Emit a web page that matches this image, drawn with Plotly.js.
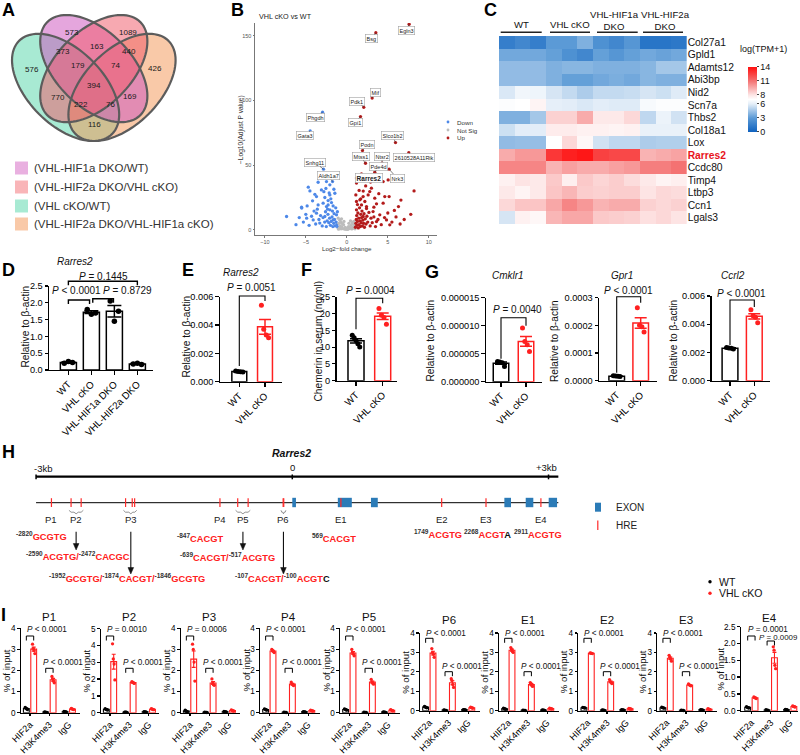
<!DOCTYPE html>
<html>
<head>
<meta charset="utf-8">
<script src="https://cdn.plot.ly/plotly-3.0.1.min.js"></script>
<style>
html, body { margin: 0; padding: 0; background: #fff; }
#fig { width: 800px; height: 755px; }
</style>
</head>
<body>
<div id="fig"></div>
<script>
// ===================== DATA =====================

// A: overlap of differentially expressed genes
const vennSets = ['(VHL-HIF1a DKO/WT)', '(VHL-HIF2a DKO/VHL cKO)', '(VHL cKO/WT)', '(VHL-HIF2a DKO/VHL-HIF1a cKO)'];
const vennCounts = [573, 1089, 373, 163, 440, 576, 179, 74, 426, 394, 770, 169, 222, 76, 116];

// B: volcano, VHL cKO vs WT  [log2 fold change, -log10 adjusted P]
const downPoints = [[-3.5,36.8],[-2.48,37.3],[-4.7,33],[-4.5,30.1],[-3.1,30.9],[-2.07,34.8],[-1.58,31.4],[-1.46,28.3],[-2.07,27],[-2.68,25],
  [-3.7,25.7],[-4.18,22.4],[-2.28,22.6],[-1.87,21.1],[-2.89,20.6],[-3.5,19.3],[-4.84,18.5],[-5.52,17.5],[-2.48,18],[-1.67,18.5],
  [-7.35,10.3],[-4.1,7.7],[-3.7,12.9],[-5.5,16.8],[-2.68,10.3],[-2.07,15.5],[-1.67,7.7],[-1.26,11.6],[-3.3,5.2],[-4.9,9],
  [-2.28,19.3],[-1.1,2],[-1.2,4],[-1.3,6],[-1.4,3],[-1.5,8],[-1.6,5],[-1.7,2.5],[-1.8,10],[-1.9,6.5],
  [-2.0,3.5],[-2.1,9],[-2.2,5.5],[-2.3,12],[-2.4,7],[-2.5,2.5],[-2.6,14],[-2.7,6],[-2.9,9.5],[-3.0,3],
  [-3.2,11],[-3.4,8],[-3.6,16],[-3.8,4.5],[-4.0,14.5],[-4.3,10.5],[-4.6,3.5],[-5.0,12],[-5.3,6],[-5.8,9.5],
  [-6.2,4],[-1.15,14],[-1.35,17],[-1.55,12.5],[-1.75,14.5],[-1.95,24],[-2.15,28.5],[-2.35,16],[-2.55,32],[-3.9,27.5],[-2.8,29.5]];
const nsPoints = [[-1.0,0.5],[-0.9,1.5],[-0.8,3],[-0.7,0.8],[-0.6,2.2],[-0.5,1],[-0.4,4],[-0.3,0.6],[-0.2,1.8],[-0.1,0.4],
  [0,1.2],[0.1,0.3],[0.2,2.5],[0.3,0.9],[0.4,1.6],[0.5,3.5],[0.6,0.7],[0.7,2],[0.8,4.5],[0.9,1.2],
  [1.0,0.8],[-0.95,5],[-0.75,6],[-0.55,4.8],[0.65,5.5],[0.85,6.5],[-0.85,7.5],[0.95,3],[-1.05,9],[-0.65,8.5],
  [-0.35,6.5],[0.25,5],[0.45,7]];
const upPoints = [[1.18,40],[3.0,32.2],[2.8,29.6],[1.18,36.2],[4.43,37.3],[5.04,38.6],[8.2,30.1],[1.99,25.7],[2.6,27],[1.1,27],
  [1.59,23.2],[2.2,21.9],[3.41,24.5],[4.63,25.7],[5.16,25.7],[1.18,21.9],[1.79,19.3],[2.4,18],[3.62,20.1],[4.43,20.6],
  [4.84,7.7],[4.02,11.6],[3.2,14.1],[3.62,6.4],[5.24,3.9],[2.4,16.5],[1.99,10.3],[1.18,15.5],[1.05,2],[1.1,5],
  [1.15,8],[1.2,11],[1.25,3.5],[1.3,6.5],[1.35,13],[1.4,1.5],[1.45,9],[1.5,4],[1.55,17],[1.6,7],
  [1.65,2.5],[1.7,12],[1.75,5.5],[1.8,9.5],[1.85,14.5],[1.9,3],[1.95,7.5],[2.05,5],[2.1,12.5],[2.15,2],
  [2.25,8.5],[2.35,4.5],[2.45,10.5],[2.55,6],[2.7,13.5],[2.85,3],[2.95,9],[3.1,5.5],[3.3,10],[3.5,2.5],
  [3.8,8],[4.2,4],[4.6,9.5],[5.0,13],[5.5,6],[6.0,10],[6.5,4.5],[7.0,8],[5.8,15],[6.3,18],
  [1.3,19.5],[1.7,24],[2.0,30],[2.3,34],[2.9,37],[3.3,17.5],[3.9,28],[1.5,30.5],[6.6,23],[7.8,12]];
const labGenes = ['Egln3','Bsg','Mif','Pdk1','Gpi1','Phgdh','Gata3','Slco1b2','Podn','2610528A11Rik','Mtss1','Ntsr2','Pde4d','Nrk3','Rarres2','Snhg11','Aldh1a7'];
const labPoints = [[7.6,159],[3.54,152.5],[3.09,102],[2.07,94.8],[1.67,87.6],[-2.96,91],[-4.47,76.5],[5.94,67.5],[1.91,61.3],[7.56,59.7],
  [2.28,51.5],[4.3,51.5],[3.41,44.6],[5.16,46.9],[1.79,43.3],[-2.84,46.9],[-1.74,37.3]];

// C: heatmap, log(TPM+1)
const heatGenes = ['Col27a1','Gpld1','Adamts12','Abi3bp','Nid2','Scn7a','Thbs2','Col18a1','Lox','Rarres2','Ccdc80','Timp4','Ltbp3','Ccn1','Lgals3'];
const heatGroups = ['WT','VHL cKO','VHL-HIF1a<br>DKO','VHL-HIF2a<br>DKO'];
const heatLogTPM = [
  [1.5,2.0,1.5, 3.0,3.0,3.8, 2.5,2.0,2.8, 1.0,1.0,1.2],
  [3.5,3.5,3.5, 3.2,2.5,2.0, 3.2,2.8,3.2, 3.5,3.3,3.5],
  [4.2,4.2,4.2, 3.8,4.0,4.0, 3.8,3.8,3.8, 4.0,4.6,4.6],
  [4.2,4.2,4.2, 3.8,3.2,3.2, 3.5,3.7,3.5, 4.0,3.8,3.8],
  [5.8,6.5,6.4, 5.7,5.3,4.8, 5.3,5.3,5.4, 5.7,5.5,5.9],
  [6.9,7.0,7.4, 6.1,6.0,5.8, 6.0,5.9,5.9, 6.7,6.9,6.9],
  [3.8,3.8,4.6, 8.5,8.5,9.5, 7.8,7.8,8.3, 5.2,6.3,5.6],
  [5.5,6.0,6.0, 7.7,7.7,7.5, 7.5,7.4,7.5, 6.2,6.2,6.2],
  [4.2,4.3,4.3, 7.0,8.3,7.3, 5.6,5.2,5.2, 4.8,4.9,4.9],
  [9.5,10.0,10.0, 12.8,13.5,13.8, 12.5,12.3,12.3, 9.3,9.5,9.7],
  [10.5,10.5,10.5, 9.3,9.8,9.5, 9.5,9.8,10.0, 10.7,10.7,11.0],
  [7.5,8.0,7.8, 8.7,7.6,8.7, 8.4,8.6,8.2, 7.8,7.4,7.6],
  [7.8,7.4,7.8, 8.8,9.2,8.6, 8.5,8.6,8.6, 8.0,8.3,8.2],
  [8.3,8.8,8.8, 9.6,10.5,10.0, 9.3,9.5,9.5, 8.5,8.3,8.5],
  [5.7,7.5,7.3, 9.2,9.6,9.6, 8.7,8.6,8.5, 8.1,8.3,8.0]
];

// D: Rarres2 mRNA, four genotypes
const dGroups = ['WT','VHL cKO','VHL-HIF1a DKO','VHL-HIF2a DKO'];
const dRarres2 = [[0.20,0.25,0.22],[1.80,1.66,1.70],[2.05,1.45,1.75],[0.18,0.20,0.16]];
const dPvals = ['P = 0.1445','P < 0.0001','P = 0.8729'];

// E-G: WT vs VHL cKO
const genotypes = ['WT','VHL cKO'];
const eRarres2WT = [0.00075,0.00072,0.00070,0.00068];
const eRarres2KO = [0.0054,0.0037,0.0033,0.0031];
const fChemerinWT = [13.5,12.8,12.0,11.0,10.0];
const fChemerinKO = [21.5,19.5,18.8,16.8];
const gCmklr1WT = [3.6e-6,3.5e-6,3.4e-6,2.7e-6];
const gCmklr1KO = [9.6e-6,7.2e-6,6.6e-6,5.4e-6];
const gGpr1WT = [1.8e-5,1.7e-5,1.6e-5,1.5e-5];
const gGpr1KO = [2.64e-4,2.0e-4,1.95e-4,1.76e-4];
const gCcrl2WT = [0.00236,0.00232,0.00229,0.00225];
const gCcrl2KO = [0.00502,0.0046,0.0045,0.00411];
const efgPvals = ['P = 0.0051','P = 0.0004','P = 0.0040','P < 0.0001','P < 0.0001'];

// H: Rarres2 locus (bp relative to TSS)
const hreSites = [-2820,-2590,-2472,-1952,-1874,-1846,-847,-639,-517,-107,-100,569,1749,2268,2911];
const exonStart = [0,533,921,2483,2733,3002];
const exonEnd = [43,697,1001,2561,2822,3100];
const regionNames = ['P1','P2','P3','P4','P5','P6','E1','E2','E3','E4'];
const regionSites = [[-2820],[-2590,-2472],[-1952,-1874,-1846],[-847],[-639,-517],[-107,-100],[569],[1749],[2268],[2911]];
const regionMotifs = [['GCGTG'],['ACGTG','CACGC'],['GCGTG','CACGT','GCGTG'],['CACGT'],['CACGT','ACGTG'],['CACGT','ACGT|C'],['CACGT'],['ACGTG'],['ACGT|A'],['ACGTG']];

// I: ChIP-qPCR, % of input, per region
const chipTargets = ['HIF2a','H3K4me3','IgG'];
const hif2aWT = [[0.25,0.22,0.18,0.15],[0.24,0.20,0.18,0.16],[0.12,0.08,0.06,0.04],[0.18,0.16,0.14,0.12],[0.18,0.16,0.14,0.12],
  [0.22,0.19,0.17,0.15],[0.13,0.11,0.09,0.08],[0.17,0.16,0.15,0.14],[0.18,0.16,0.15,0.13],[0.12,0.10,0.09,0.08]];
const hif2aKO = [[3.25,3.05,2.95,2.80],[4.10,3.20,2.90,1.95],[3.25,3.00,2.40,1.50],[3.00,2.95,2.90,2.85],[3.00,2.85,2.78,2.70],
  [3.20,3.00,2.90,2.75],[3.25,3.15,3.05,3.00],[2.97,2.96,2.95,2.94],[2.85,2.75,2.65,2.55],[0.41,0.39,0.38,0.36]];
const h3k4WT = [[0.04,0.03,0.02,0.02],[0.04,0.03,0.03,0.02],[0.03,0.02,0.02,0.01],[0.03,0.02,0.02,0.01],[0.03,0.02,0.02,0.01],
  [0.04,0.03,0.02,0.02],[0.03,0.02,0.02,0.01],[0.04,0.03,0.03,0.02],[0.03,0.02,0.02,0.01],[0.03,0.02,0.02,0.01]];
const h3k4KO = [[1.72,1.60,1.50,1.42],[1.85,1.80,1.78,1.74],[1.60,1.40,1.33,1.30],[1.45,1.36,1.32,1.29],[1.58,1.46,1.40,1.35],
  [1.65,1.55,1.35,1.20],[1.45,1.40,1.30,1.25],[1.60,1.50,1.45,1.40],[1.38,1.33,1.30,1.28],[1.90,1.80,1.35,1.25]];
const iggWT = [[0.06,0.05,0.04,0.04],[0.06,0.05,0.05,0.04],[0.06,0.05,0.04,0.04],[0.05,0.04,0.04,0.03],[0.04,0.03,0.03,0.02],
  [0.06,0.05,0.04,0.04],[0.04,0.03,0.03,0.02],[0.05,0.04,0.04,0.03],[0.05,0.04,0.04,0.03],[0.04,0.03,0.03,0.02]];
const iggKO = [[0.20,0.18,0.16,0.15],[0.24,0.21,0.19,0.18],[0.13,0.11,0.09,0.08],[0.12,0.10,0.09,0.08],[0.15,0.12,0.10,0.09],
  [0.18,0.16,0.14,0.13],[0.13,0.11,0.10,0.09],[0.12,0.10,0.09,0.08],[0.10,0.08,0.07,0.06],[0.14,0.13,0.12,0.11]];
const chipPvals = [['P < 0.0001','P < 0.0001'],['P = 0.0010','P < 0.0001'],['P = 0.0006','P < 0.0001'],['P < 0.0001','P < 0.0001'],
  ['P < 0.0001','P < 0.0001'],['P < 0.0001','P < 0.0001'],['P < 0.0001','P < 0.0001'],['P < 0.0001','P < 0.0001'],
  ['P < 0.0001','P < 0.0001'],['P = 0.0001','P = 0.0009']];
const chipYMax = [4,5,4,4,4,4,4,4,4,2.5];

// ===================== DRAWING =====================
const W = 800, H = 755;
const FONT = 'Arial, "Liberation Sans", Helvetica, sans-serif';
const RED = '#ff2020';
const fx = v => v / W;
const fy = v => 1 - v / H;
const domX = (a, b) => [a / W, b / W];
const domY = (top, bot) => [1 - bot / H, 1 - top / H];

const traces = [], shapes = [], annotations = [];
const layout = {
  width: W, height: H, margin: {l: 0, r: 0, t: 0, b: 0},
  paper_bgcolor: '#fff', plot_bgcolor: 'rgba(0,0,0,0)',
  showlegend: false, barmode: 'overlay',
  font: {family: FONT, color: '#000'},
  shapes: shapes, annotations: annotations
};

const axKey = k => (k === 1 ? '' : String(k));
const xr = k => 'x' + axKey(k);
const yr = k => 'y' + axKey(k);
function setAx(k, xa, ya) {
  layout['xaxis' + axKey(k)] = Object.assign({anchor: yr(k), fixedrange: true, showgrid: false, zeroline: false}, xa);
  layout['yaxis' + axKey(k)] = Object.assign({anchor: xr(k), fixedrange: true, showgrid: false, zeroline: false}, ya);
}
function T(x, y, text, size, o) {
  o = o || {};
  annotations.push({
    xref: o.xref || 'paper', yref: 'paper',
    x: o.xref ? x : fx(x), y: fy(y), text: text, showarrow: false,
    xanchor: o.anchor || 'center', yanchor: 'middle', textangle: o.angle || 0,
    font: {family: FONT, size: size, color: o.color || '#111'}
  });
}
const pTxt = s => '<i>P</i>' + s.slice(1).replace('<', '&lt;');
const mean = a => a.reduce((s, v) => s + v, 0) / a.length;
const sem = a => { const m = mean(a); return Math.sqrt(a.reduce((s, v) => s + (v - m) * (v - m), 0) / (a.length - 1)) / Math.sqrt(a.length); };
const JIT = {3: [-1, 0, 1], 4: [-1, -0.35, 0.35, 1], 5: [-1, -0.5, 0, 0.5, 1]};

// panel letters
[['A', 8, 10.5], ['B', 237, 10.5], ['C', 490, 10.5], ['D', 8, 270], ['E', 188, 270], ['F', 306.7, 270], ['G', 432, 272], ['H', 8, 452], ['I', 3, 615]]
  .forEach(p => T(p[1], p[2], '<b>' + p[0] + '</b>', 18, {color: '#000'}));

// ---------- A: Venn ----------
setAx(1, {domain: domX(0, 230), range: [0, 230], visible: false}, {domain: domY(0, 200), range: [200, 0], visible: false});
function ellipsePath(cx, cy, a, b, deg) {
  const t = deg * Math.PI / 180, c = Math.cos(t), s = Math.sin(t);
  let d = '';
  for (let i = 0; i <= 96; i++) {
    const u = 2 * Math.PI * i / 96;
    const x = cx + a * Math.cos(u) * c - b * Math.sin(u) * s;
    const y = cy + a * Math.cos(u) * s + b * Math.sin(u) * c;
    d += (i ? 'L' : 'M') + x.toFixed(2) + ',' + y.toFixed(2);
  }
  return d + 'Z';
}
// drawing order: VHL cKO/WT, HIF2a/HIF1a, HIF1a/WT, HIF2a/cKO
const vennShapes = [
  {cx: 65.6, cy: 87.4, ang: 45, fill: 'rgba(81,213,167,0.5)'},
  {cx: 122, cy: 87.4, ang: -45, fill: 'rgba(243,147,81,0.5)'},
  {cx: 93.8, cy: 68.6, ang: 45, fill: 'rgba(206,85,190,0.52)'},
  {cx: 93.8, cy: 68.6, ang: -45, fill: 'rgba(240,90,105,0.52)'}
];
vennShapes.forEach(e => shapes.push({type: 'path', xref: 'x', yref: 'y', path: ellipsePath(e.cx, e.cy, 65.8, 37.6, e.ang), fillcolor: e.fill, line: {width: 0}}));
vennShapes.forEach(e => shapes.push({type: 'path', xref: 'x', yref: 'y', path: ellipsePath(e.cx, e.cy, 65.8, 37.6, e.ang), fillcolor: 'rgba(0,0,0,0)', line: {color: '#5c5c5c', width: 2.2}}));
const vennCountPos = [[72,32],[128,32],[63,51],[97,46],[129,51],[32,69],[78,65],[115,65],[155,68],[94,85],[58,97],[130,96],[81,104],[110,104],[94,124]];
vennCounts.forEach((c, i) => annotations.push({xref: 'x', yref: 'y', x: vennCountPos[i][0], y: vennCountPos[i][1], text: String(c), showarrow: false, font: {family: FONT, size: 8, color: '#1a1a1a'}}));
const vennKeyColors = ['#e9b0e0', '#f9b5b8', '#a8ead3', '#f9c9a8'];
[168, 187, 206, 224].forEach((row, i) => {
  shapes.push({type: 'rect', xref: 'paper', yref: 'paper', x0: fx(15), x1: fx(28), y0: fy(row + 6.5), y1: fy(row - 6.5), fillcolor: vennKeyColors[i], line: {width: 0}});
  T(32, row, vennSets[i], 11.5, {anchor: 'left', color: '#333'});
});

// ---------- B: volcano ----------
const vAxisStyle = {showline: true, linecolor: '#777', linewidth: 1, ticks: 'outside', ticklen: 1.5, tickcolor: '#777', tickfont: {family: FONT, size: 5.5, color: '#555'}};
setAx(2, Object.assign({domain: domX(255, 437), range: [-11.2, 11], tickvals: [-10, -5, 0, 5, 10]}, vAxisStyle),
         Object.assign({domain: domY(23, 235), range: [-4, 160], tickvals: [0, 50, 100, 150]}, vAxisStyle));
const labDown = labPoints.filter(p => p[0] < 0), labUp = labPoints.filter(p => p[0] > 0);
const vSeries = [[downPoints.concat(labDown), '#4d88e8'], [nsPoints, '#bcbcbc'], [upPoints.concat(labUp), '#b31b1b']];
vSeries.forEach(s => traces.push({type: 'scatter', mode: 'markers', xaxis: 'x2', yaxis: 'y2',
  x: s[0].map(p => p[0]), y: s[0].map(p => p[1]), marker: {color: s[1], size: 3.3}, hoverinfo: 'skip'}));
const labOffsets = [[-3,6],[-4,6],[3,-5],[-7,-6],[-5,6],[-7,5],[-5,5],[-3,-7],[5,-6],[5,5],[-5,-7],[0,-7],[4,-6],[8,9],[8,4],[-9,-7],[-4,-6]];
labGenes.forEach((g, i) => {
  const hl = g === 'Rarres2';
  annotations.push({xref: 'x2', yref: 'y2', x: labPoints[i][0], y: labPoints[i][1], text: hl ? '<b>' + g + '</b>' : g,
    showarrow: true, arrowhead: 0, arrowwidth: 0.6, arrowcolor: '#333', ax: labOffsets[i][0], ay: labOffsets[i][1],
    font: {family: FONT, size: hl ? 6.5 : 5.5, color: '#222'}, bgcolor: '#fff', bordercolor: '#a0a0a0', borderwidth: 0.6, borderpad: 1});
});
T(257, 17, 'VHL cKO vs WT', 7.2, {anchor: 'left', color: '#222'});
T(347, 248.5, 'Log2−fold change', 6.2, {color: '#333'});
T(241, 130, '−Log10(Adjust P value)', 6.6, {angle: -90, color: '#333'});
[['Down', '#4d88e8', 122], ['Not Sig', '#bcbcbc', 130], ['Up', '#b31b1b', 138]].forEach(r => {
  shapes.push({type: 'circle', xref: 'paper', yref: 'paper', x0: fx(446.6), x1: fx(449.4), y0: fy(r[2] + 1.4), y1: fy(r[2] - 1.4), fillcolor: r[1], line: {width: 0}});
  T(455, r[2], r[0], 6.2, {anchor: 'left', color: '#333'});
});

// ---------- C: heatmap ----------
setAx(3, {domain: domX(499, 686.7), range: [-0.5, 11.5], visible: false},
  {domain: domY(36, 224), range: [14.5, -0.5], side: 'right', tickmode: 'array', tickvals: heatGenes.map((g, i) => i),
   ticktext: heatGenes.map(g => g === 'Rarres2' ? '<b><span style="color:#e8141c">Rarres2</span></b>' : g),
   ticks: '', showline: false, tickfont: {family: FONT, size: 10.3, color: '#111'}});
traces.push({type: 'heatmap', xaxis: 'x3', yaxis: 'y3', z: heatLogTPM, x: heatLogTPM[0].map((v, i) => i), y: heatGenes.map((g, i) => i),
  zmin: 0, zmax: 14, hoverinfo: 'skip',
  colorscale: [[0, '#0f62bf'], [0.214, '#5b9ad6'], [0.43, '#e4eef8'], [0.5, '#ffffff'], [0.571, '#fde4e4'], [0.786, '#f47272'], [1, '#ff1010']],
  colorbar: {x: fx(738), xanchor: 'left', xref: 'paper', y: fy(99.2), yanchor: 'middle', yref: 'paper', len: 85, lenmode: 'pixels',
    thickness: 9, thicknessmode: 'pixels', outlinewidth: 0, tickvals: [0, 3, 6, 8, 11, 14], ticks: 'outside', ticklen: 2,
    tickfont: {family: FONT, size: 9, color: '#111'}}});
T(738, 49, 'log(TPM+1)', 9, {anchor: 'left'});
const heatGroupX = [521.5, 570, 614.5, 665];
const heatGroupLine = [[500.7, 541.7], [550, 590], [597, 637.7], [643, 683]];
heatGroups.forEach((g, i) => {
  T(heatGroupX[i], g.indexOf('<br>') > 0 ? 20 : 24, g, 9.6);
  shapes.push({type: 'line', xref: 'paper', yref: 'paper', x0: fx(heatGroupLine[i][0]), x1: fx(heatGroupLine[i][1]), y0: fy(32.3), y1: fy(32.3), line: {color: '#222', width: 1.5}});
});

// ---------- bar helpers (D-G, I) ----------
function barAxes(k, xd, yd, xrange, ymax, ytickvals, yfmt, labels, tickvals, xfont, yfont) {
  const base = {showline: true, linecolor: '#000', linewidth: 1.3, ticks: 'outside', ticklen: 3.5, tickwidth: 1.2, tickcolor: '#000'};
  setAx(k, Object.assign({domain: domX(xd[0], xd[1]), range: xrange, tickmode: 'array', tickvals: tickvals, ticktext: labels, tickangle: -45,
      tickfont: {family: FONT, size: xfont, color: '#000'}}, base),
    Object.assign({domain: domY(yd[0], yd[1]), range: [0, ymax], tickmode: 'array', tickvals: ytickvals, tickformat: yfmt,
      tickfont: {family: FONT, size: yfont, color: '#000'}}, base));
}
function addBars(k, xs, reps, color, o) {
  traces.push({type: 'bar', xaxis: xr(k), yaxis: yr(k), x: xs, y: reps.map(mean), width: o.barW,
    marker: {color: '#fff', line: {color: color, width: o.lw}},
    error_y: {type: 'data', array: reps.map(sem), color: color, thickness: o.lw, width: o.cap}, hoverinfo: 'skip'});
  const px = [], py = [];
  reps.forEach((r, i) => r.forEach((v, j) => { px.push(xs[i] + JIT[r.length][j] * o.jit); py.push(v); }));
  traces.push({type: 'scatter', mode: 'markers', xaxis: xr(k), yaxis: yr(k), x: px, y: py, cliponaxis: false,
    marker: {color: color, size: o.pt}, hoverinfo: 'skip'});
}
function bracket(k, x0, x1, top, leg0, leg1, color, w) {
  shapes.push({type: 'path', xref: xr(k), yref: 'paper',
    path: 'M' + x0 + ',' + fy(top + leg0) + ' L' + x0 + ',' + fy(top) + ' L' + x1 + ',' + fy(top) + ' L' + x1 + ',' + fy(top + leg1),
    line: {color: color || '#000', width: w || 1.1}});
}
const ticks = (max, step) => { const a = []; for (let v = 0; v <= max + 1e-12; v += step) a.push(+v.toPrecision(6)); return a; };

// ---------- D ----------
barAxes(4, [49.3, 153], [286, 370], [-0.83, 3.68], 2.5, ticks(2.5, 0.5), '.1f', dGroups, [0, 1, 2, 3], 9.8, 9.2);
addBars(4, [0, 1, 2, 3], dRarres2, '#000', {barW: 0.7, lw: 1.5, cap: 7, pt: 5.5, jit: 0.18});
T(75.3, 261.7, '<i>Rarres2</i>', 10);
T(24.5, 327, 'Relative to β-actin', 10.2, {angle: -90});
bracket(4, 0, 3, 281.3, 4, 4, '#000', 1.4);
bracket(4, 0, 0.92, 300, 4, 4, '#000', 1.4);
bracket(4, 1.06, 1.96, 298.7, 4, 4, '#000', 1.4);
T(103.3, 276.5, pTxt(dPvals[0]), 10);
T(76.2, 290.7, pTxt(dPvals[1]), 10);
T(127.2, 290.7, pTxt(dPvals[2]), 10);

// ---------- E, F, G ----------
const twoBar = [
  {k: 5, xd: [220, 281.7], yd: [296.7, 381.7], xrange: [-0.751, 1.65], ymax: 0.006, yt: ticks(0.006, 0.002), fmt: '.3f', wt: eRarres2WT, ko: eRarres2KO,
   title: 'Rarres2', tpos: [241, 272.7], ytitle: 'Relative to β-actin', ypos: [186.5, 337], p: efgPvals[0], ppos: [251.7, 287.3], top: 296, legL: 70, legR: 5, barW: 0.58},
  {k: 6, xd: [336.7, 397], yd: [296.7, 380.7], xrange: [-0.723, 1.536], ymax: 25, yt: ticks(25, 5), fmt: 'd', wt: fChemerinWT, ko: fChemerinKO,
   title: '', tpos: null, ytitle: 'Chemerin in serum (ng/ml)', ypos: [317.5, 341], p: efgPvals[1], ppos: [370, 290.7], top: 298.3, legL: 31, legR: 5, barW: 0.6},
  {k: 7, xd: [486, 541.7], yd: [297.7, 381.7], xrange: [-0.6, 1.628], ymax: 1.5e-5, yt: [0, 5e-6, 1e-5, 1.5e-5], fmt: '.6f', wt: gCmklr1WT, ko: gCmklr1KO,
   title: 'Cmklr1', tpos: [508.3, 275.7], ytitle: 'Relative to β-actin', ypos: [429.5, 341], p: efgPvals[2], ppos: [517.3, 309], top: 317.7, legL: 41, legR: 8, barW: 0.62},
  {k: 8, xd: [599.3, 656.7], yd: [297.7, 380.7], xrange: [-0.725, 1.667], ymax: 3e-4, yt: [0, 1e-4, 2e-4, 3e-4], fmt: '.4f', wt: gGpr1WT, ko: gGpr1KO,
   title: 'Gpr1', tpos: [621.7, 275.7], ytitle: 'Relative to β-actin', ypos: [554, 341], p: efgPvals[3], ppos: [628.3, 290], top: 296.7, legL: 76, legR: 6, barW: 0.65},
  {k: 9, xd: [711.7, 770], yd: [296, 380.7], xrange: [-0.753, 1.646], ymax: 0.006, yt: ticks(0.006, 0.002), fmt: '.3f', wt: gCcrl2WT, ko: gCcrl2KO,
   title: 'Ccrl2', tpos: [733.3, 275.7], ytitle: 'Relative to β-actin', ypos: [672.5, 341], p: efgPvals[4], ppos: [741.7, 293.3], top: 300, legL: 45, legR: 7, barW: 0.65}
];
twoBar.forEach(c => {
  barAxes(c.k, c.xd, c.yd, c.xrange, c.ymax, c.yt, c.fmt, genotypes, [0, 1], 9.8, 9.2);
  addBars(c.k, [0], [c.wt], '#000', {barW: c.barW, lw: 1.5, cap: 6, pt: 5, jit: 0.14});
  addBars(c.k, [1], [c.ko], RED, {barW: c.barW, lw: 1.5, cap: 6, pt: 5, jit: 0.14});
  if (c.title) T(c.tpos[0], c.tpos[1], '<i>' + c.title + '</i>', 10);
  T(c.ypos[0], c.ypos[1], c.ytitle, 10.2, {angle: -90});
  bracket(c.k, 0, 1, c.top, c.legL, c.legR, '#000', 1.1);
  T(c.ppos[0], c.ppos[1], pTxt(c.p), 10);
});

// ---------- H: locus map ----------
setAx(10, {domain: domX(30, 565), range: [-3071, 3193], visible: false}, {domain: [0, 1], range: [0, 1], visible: false});
const HX = {xref: 'x10', yref: 'paper'};
const hLine = (x0, x1, y0, y1, color, w) => shapes.push(Object.assign({type: 'line', x0: x0, x1: x1, y0: fy(y0), y1: fy(y1), line: {color: color, width: w}}, HX));
hLine(-3000, 3115, 476.7, 476.7, '#000', 2.2);
[-3000, 0, 3000].forEach(v => hLine(v, v, 474.5, 479.3, '#000', 1.5));
T(43.3, 468.3, '-3kb', 9.5);
T(292.3, 467.3, '0', 9.5);
T(546.7, 467.3, '+3kb', 9.5);
T(291.7, 453.3, '<b><i>Rarres2</i></b>', 10.5);
hLine(-3000, 3115, 502.7, 502.7, '#000', 1);
exonStart.forEach((s, i) => shapes.push(Object.assign({type: 'rect', x0: s, x1: exonEnd[i], y0: fy(507.2), y1: fy(497.8), fillcolor: '#2b7bb7', line: {width: 0}}, HX)));
hreSites.forEach(s => hLine(s, s, 498.2, 507, '#ff2a2a', 1.2));
regionNames.forEach((name, i) => {
  const sites = regionSites[i];
  const xm = mean(sites);
  T(xm, 519.3, name, 9.5, {xref: 'x10', color: '#222'});
  if (sites.length > 1) {
    const x0 = Math.min(...sites) - 25, x1 = Math.max(...sites) + 25, e = (x1 - x0) * 0.15;
    shapes.push(Object.assign({type: 'path', line: {color: '#777', width: 0.8},
      path: 'M' + x0 + ',' + fy(510.3) + ' L' + (x0 + e) + ',' + fy(512.2) + ' L' + (xm - e) + ',' + fy(512.2) + ' L' + xm + ',' + fy(513.8) +
            ' L' + (xm + e) + ',' + fy(512.2) + ' L' + (x1 - e) + ',' + fy(512.2) + ' L' + x1 + ',' + fy(510.3)}, HX));
  }
});
// motif labels: superscript position, red core, black mismatch
const motifPos = [[41, 535.7], [77.5, 556], [126.7, 578.3], [200, 538.3], [227.5, 557.3], [282.5, 578.3], [334, 537.7], [438, 534], [487.5, 534], [538, 534]];
const arrowHead = {1: 550, 2: 574, 4: 550, 5: 574};
regionSites.forEach((sites, i) => {
  const html = sites.map((s, j) => {
    const parts = regionMotifs[i][j].split('|');
    return '<sup><span style="color:#333">' + s + '</span></sup><span style="color:' + RED + '">' + parts[0] + '</span>' +
      (parts[1] ? '<span style="color:#111">' + parts[1] + '</span>' : '');
  }).join('<span style="color:' + RED + '">/</span>');
  T(motifPos[i][0], motifPos[i][1], '<b>' + html + '</b>', 9.3);
  if (arrowHead[i]) {
    const xm = mean(sites), yh = arrowHead[i];
    hLine(xm, xm, 531.7, yh - 5, '#111', 1.1);
    shapes.push(Object.assign({type: 'path', path: 'M' + (xm - 33) + ',' + fy(yh - 6.5) + ' L' + (xm + 33) + ',' + fy(yh - 6.5) + ' L' + xm + ',' + fy(yh) + ' Z',
      fillcolor: '#111', line: {color: '#111', width: 0.5}}, HX));
  }
});
shapes.push({type: 'rect', xref: 'paper', yref: 'paper', x0: fx(595), x1: fx(601), y0: fy(511.7), y1: fy(502.7), fillcolor: '#2b7bb7', line: {width: 0}});
shapes.push({type: 'line', xref: 'paper', yref: 'paper', x0: fx(597.8), x1: fx(597.8), y0: fy(530), y1: fy(520.5), line: {color: '#ff2a2a', width: 1.2}});
T(614, 507.5, 'EXON', 10, {anchor: 'left', color: '#222'});
T(614, 525.7, 'HRE', 10, {anchor: 'left', color: '#222'});

// ---------- I: ChIP-qPCR ----------
const chipLeft = [20.7, 100.7, 180.7, 260, 340, 420, 499, 578.3, 657.3, 740.7];
const chipRight = [80, 159.3, 240, 320, 400, 480, 559.3, 638.3, 717.3, 798];
const chipTop = [628.3, 628.7, 628.3, 628.3, 628.3, 633, 633, 633, 633, 626.7];
const chipBot = [712.7, 712.7, 712.7, 712.7, 712.7, 710.7, 710.7, 710.7, 710.7, 710.7];
const DODGE = 0.19;
regionNames.forEach((name, i) => {
  const k = 11 + i;
  const x0r = i === 9 ? -0.55 : -0.48;
  const x1r = x0r + (chipRight[i] - chipLeft[i]) / 19.4;
  const step = chipYMax[i] === 2.5 ? 0.5 : 1;
  barAxes(k, [chipLeft[i], chipRight[i]], [chipTop[i], chipBot[i]], [x0r, x1r], chipYMax[i], ticks(chipYMax[i], step),
    step < 1 ? '.1f' : 'd', chipTargets, [0, 1, 2], 9.1, 8.2);
  layout['xaxis' + k].linewidth = 1.1; layout['yaxis' + k].linewidth = 1.1;
  layout['xaxis' + k].ticklen = 2; layout['yaxis' + k].ticklen = 2.5;
  const o = {barW: 0.3, lw: 1.1, cap: 2, pt: 3.3, jit: 0.06};
  addBars(k, [-DODGE, 1 - DODGE, 2 - DODGE], [hif2aWT[i], h3k4WT[i], iggWT[i]], '#000', o);
  addBars(k, [DODGE, 1 + DODGE, 2 + DODGE], [hif2aKO[i], h3k4KO[i], iggKO[i]], RED, o);
  const tY = i < 5 ? 617 : (i < 9 ? 620 : 618.3);
  T(1 + x0r + 0.48, tY, name, 11.5, {xref: xr(k)});
  const yMid = (chipTop[i] + chipBot[i]) / 2;
  T(chipLeft[i] - (i === 9 ? 20 : 14), yMid, '% of input', 9.6, {angle: -90});
  const pY = i < 5 ? [629.3, 662.3] : (i < 9 ? [633.3, 666] : [629.3, 637.3]);
  const bY = i < 5 ? [636, 668.3] : (i < 9 ? [638.3, 671.7] : [636, 641]);
  bracket(k, -DODGE, DODGE, bY[0], 4.5, 4.5, '#000', 1);
  bracket(k, 1 - DODGE, 1 + DODGE, bY[1], 4.5, 4.5, '#000', 1);
  annotations.push({xref: xr(k), yref: 'paper', x: -DODGE - 0.08, y: fy(pY[0]), xanchor: 'left', yanchor: 'middle', showarrow: false,
    text: pTxt(chipPvals[i][0]), font: {family: FONT, size: 8.2, color: '#111'}});
  annotations.push({xref: xr(k), yref: 'paper', x: i === 9 ? 0.28 : 1 - DODGE - 0.25, y: fy(pY[1]), xanchor: 'left', yanchor: 'middle', showarrow: false,
    text: pTxt(chipPvals[i][1]), font: {family: FONT, size: i === 9 ? 7.9 : 8.2, color: '#111'}});
});
[['WT', '#000', 581.7], ['VHL cKO', RED, 593.3]].forEach(r => {
  shapes.push({type: 'circle', xref: 'paper', yref: 'paper', x0: fx(708.3), x1: fx(711.7), y0: fy(r[2] + 1.7), y1: fy(r[2] - 1.7), fillcolor: r[1], line: {width: 0}});
  T(716.7, r[2], r[0], 10.5, {anchor: 'left'});
});

Plotly.newPlot('fig', traces, layout, {staticPlot: true, displayModeBar: false});
</script>
</body>
</html>
